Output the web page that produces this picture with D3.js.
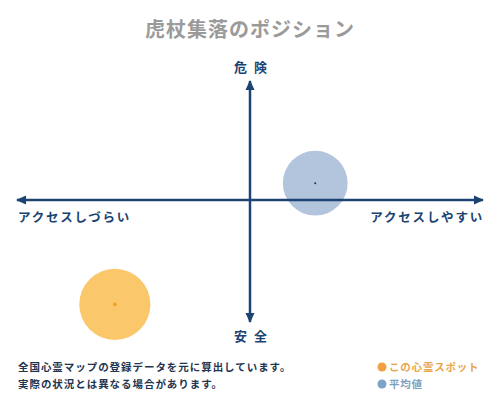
<!DOCTYPE html>
<html><head><meta charset="utf-8">
<script src="https://cdn.jsdelivr.net/npm/d3@7"></script>
<style>
body{margin:0;background:#fff;}
svg{display:block;font-family:"Noto Sans CJK JP","Noto Sans",sans-serif;}
</style></head>
<body>
<svg id="c" width="500" height="400"></svg>
<script>
const title = "虎杖集落のポジション";
const axisLabels = ["危険", "安全", "アクセスしづらい", "アクセスしやすい"];
const seriesNames = ["この心霊スポット", "平均値"];
const accessValues = [-58, 28];   // x: access (negative = hard)
const dangerValues = [-87, 14];   // y: danger (positive = dangerous)
const sizeValues = [89, 81];
const notes = ["全国心霊マップの登録データを元に算出しています。", "実際の状況とは異なる場合があります。"];

const fills = ["#fbc463", "#9fb6d3"];
const dots = ["#f0a020", "#1f2f45"];
const legendText = ["#e8a54c", "#7f9fc0"];
const navy = "#1b4472";

const svg = d3.select("#c");
const x = d3.scaleLinear().domain([-100, 100]).range([17, 483]);
const y = d3.scaleLinear().domain([-100, 100]).range([320, 80]);
const r = d3.scaleLinear().domain([0, 100]).range([0, 40]);

svg.append("text").attr("x", 250).attr("y", 37).attr("text-anchor", "middle")
  .attr("font-size", 20).attr("font-weight", "bold").attr("fill", "#9a9a9a")
  .attr("letter-spacing", 1).text(title);

const pts = accessValues.map((v, i) => ({x: v, y: dangerValues[i], s: sizeValues[i], i}));
svg.selectAll("circle.b").data(pts).join("circle").attr("class", "b")
  .attr("cx", d => x(d.x)).attr("cy", d => y(d.y)).attr("r", d => r(d.s))
  .attr("fill", d => fills[d.i]).attr("opacity", d => d.i === 0 ? 0.95 : 0.8);

// axes
const defs = svg.append("defs");
defs.append("marker").attr("id", "ah").attr("viewBox", "0 0 10 10").attr("refX", 9).attr("refY", 5)
  .attr("markerWidth", 4).attr("markerHeight", 4).attr("orient", "auto-start-reverse")
  .append("path").attr("d", "M0,0.5L10,5L0,9.5Z").attr("fill", navy);

svg.append("line").attr("x1", x(-100)).attr("x2", x(100)).attr("y1", y(0)).attr("y2", y(0))
  .attr("stroke", navy).attr("stroke-width", 2.5)
  .attr("marker-start", "url(#ah)").attr("marker-end", "url(#ah)");
svg.append("line").attr("x1", x(0)).attr("x2", x(0)).attr("y1", y(100) + 1).attr("y2", y(-100) + 2)
  .attr("stroke", navy).attr("stroke-width", 2.5)
  .attr("marker-start", "url(#ah)").attr("marker-end", "url(#ah)");

svg.selectAll("circle.d").data(pts).join("circle").attr("class", "d")
  .attr("cx", d => x(d.x)).attr("cy", d => y(d.y)).attr("r", d => d.i === 0 ? 1.8 : 1)
  .attr("fill", d => dots[d.i]);

const lab = (t, px, py, anchor, ls) => svg.append("text").attr("x", px).attr("y", py)
  .attr("text-anchor", anchor).attr("font-size", 13).attr("font-weight", "bold")
  .attr("fill", navy).attr("letter-spacing", ls).text(t);
lab(axisLabels[0], 254, 72, "middle", 7);
lab(axisLabels[1], 254, 341, "middle", 7);
lab(axisLabels[2], 18, 222, "start", 1.8).attr("font-size", 12.5);
lab(axisLabels[3], 484, 222, "end", 1.8).attr("font-size", 12.5);

notes.forEach((t, i) => svg.append("text").attr("x", 18).attr("y", 371 + i * 17)
  .attr("font-size", 10.5).attr("font-weight", "bold").attr("fill", "#1f3550")
  .attr("letter-spacing", 0.95).text(t));

seriesNames.forEach((t, i) => {
  svg.append("circle").attr("cx", 382).attr("cy", 367 + i * 17).attr("r", 4.5).attr("fill", i === 0 ? "#f0a040" : "#7fa3c8");
  svg.append("text").attr("x", 389).attr("y", 371 + i * 17).attr("font-size", 10.5)
    .attr("font-weight", "bold").attr("fill", legendText[i]).attr("letter-spacing", 0.8).text(t);
});
</script>
</body></html>
